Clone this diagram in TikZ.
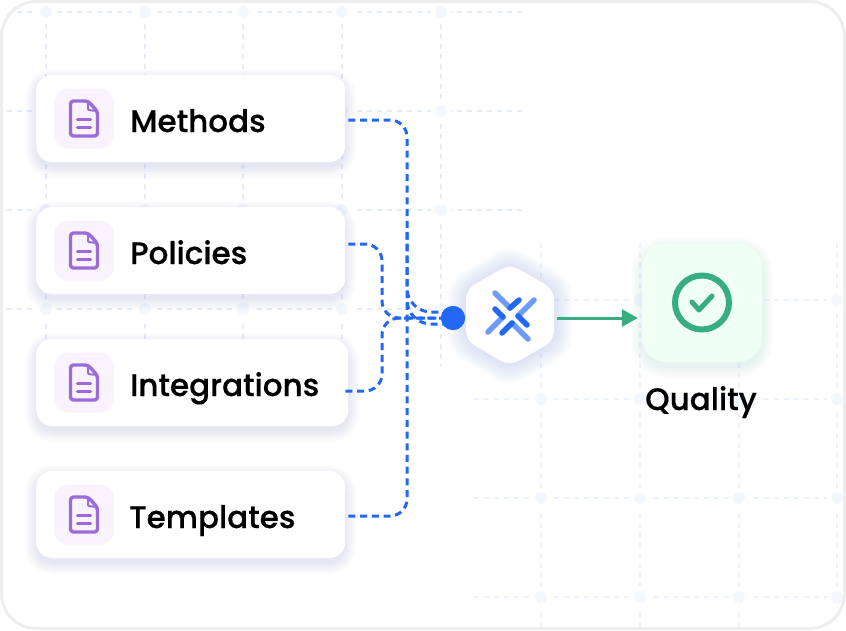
\documentclass[tikz,border=0pt]{standalone}
\usepackage{fontspec}
\setmainfont{Poppins Medium}[FakeBold=0.5]
\usetikzlibrary{arrows.meta,shapes.geometric}
\definecolor{gridblue}{HTML}{E3ECFD}
\definecolor{gridpale}{HTML}{EBF1FE}
\definecolor{griddot}{HTML}{F3F7FE}
\definecolor{wireblue}{HTML}{2268F5}
\definecolor{lightblue}{HTML}{6C9BF8}
\definecolor{docpurple}{HTML}{9B6BD8}
\definecolor{tilepurple}{HTML}{F8F3FE}
\definecolor{checkgreen}{HTML}{36AE82}
\definecolor{tilegreen}{HTML}{EFFFF5}
\definecolor{frameline}{HTML}{EEEEEE}
\definecolor{cardglow}{HTML}{9DAEEF}
\definecolor{hubglow}{HTML}{6F8CF5}
\definecolor{tileglow}{HTML}{B5DCC9}
\tikzset{
	gridline/.style={gridblue, line width=1.2pt, dash pattern=on 4.5pt off 5.5pt},
	gridlinepale/.style={gridpale, line width=1.2pt, dash pattern=on 4.5pt off 5.5pt},
	wire/.style={wireblue, line width=3pt, dash pattern=on 7pt off 4.7pt, rounded corners=17pt},
	card/.style={draw=none, fill=white, rounded corners=16pt, inner sep=0pt, minimum height=87pt, anchor=west},
	doctile/.style={draw=none, fill=tilepurple, rounded corners=14pt, inner sep=0pt, minimum size=60pt},
	label/.style={inner sep=0pt, anchor=base west, font=\fontsize{31}{31}\selectfont},
	docline/.style={docpurple, line width=3.4pt, line cap=round, line join=round},
	xlight/.style={lightblue, line width=5.5pt, line cap=round},
	xdark/.style={wireblue, line width=5.5pt, line cap=round},
	docfile/.pic={
		\draw[docline, rounded corners=3pt] (-13.5,-17.5) -- (4,-17.5) -- (13.5,-7) -- (13.5,17.5) -- (-13.5,17.5) -- cycle;
		\draw[docline, line width=2pt, rounded corners=1pt] (4,-17) -- (4,-8.5) -- (13,-7.5);
		\draw[docline] (-6.5,1) -- (6.5,1);
		\draw[docline] (-6.5,9) -- (6.5,9);
	}
}
% soft shadow made of stacked translucent boxes: x0,y0,x1,y1,radius,colour
\newcommand{\softshadow}[6]{%
	\foreach \s in {1,...,12}
		\fill[#6, opacity=0.018, rounded corners=#5pt+12pt-\s*1pt]
			(#1-12+\s,#2-7+\s) rectangle (#3+12-\s,#4+17-\s);
}
\begin{document}
\begin{tikzpicture}[x=1pt, y=-1pt]
	\useasboundingbox (0,0) rectangle (846,630);
	\fill[white] (0,0) rectangle (846,630);

	\begin{scope}
	\clip[rounded corners=35pt] (1.5,1.5) rectangle (844.5,628.5);
	% grid behind the cards
	\foreach \y in {12,111,210,309}
		\draw[gridline] (7,\y) -- (524,\y);
	\foreach \x in {46,145,243,342,441}
		\draw[gridline] (\x,4) -- (\x,366);
	\foreach \y in {300,399,498,597}
		\draw[gridlinepale] (474,\y) -- (846,\y);
	\foreach \x in {541,640,739,837}
		\draw[gridlinepale] (\x,243) -- (\x,630);
	\foreach \x in {46,145,243,342,441}
		\foreach \y in {12,111,210,309} {
			\fill[white] (\x,\y) circle (10pt);
			\fill[griddot] (\x,\y) circle (6pt);
		}
	\foreach \x in {541,640,739,837}
		\foreach \y in {300,399,498,597} {
			\fill[white] (\x,\y) circle (10pt);
			\fill[griddot] (\x,\y) circle (6pt);
		}
	\end{scope}
	\draw[frameline, line width=3pt, rounded corners=35pt] (1.5,1.5) rectangle (844.5,628.5);

	% cards
	\softshadow{36}{75}{345}{162}{16}{cardglow}
	\softshadow{36}{207}{345}{294}{16}{cardglow}
	\softshadow{36}{339}{348}{426}{16}{cardglow}
	\softshadow{36}{471}{345}{558}{16}{cardglow}
	\node[card, minimum width=309pt] (methods) at (36,118.5) {};
	\node[card, minimum width=309pt] (policies) at (36,250.5) {};
	\node[card, minimum width=312pt] (integrations) at (36,382.5) {};
	\node[card, minimum width=309pt] (templates) at (36,514.5) {};
	\node[doctile] (methodstile) at (84,118.5) {};
	\node[doctile] (policiestile) at (84,250.5) {};
	\node[doctile] (integrationstile) at (84,382.5) {};
	\node[doctile] (templatestile) at (84,514.5) {};
	\pic at (methodstile) {docfile};
	\pic at (policiestile) {docfile};
	\pic at (integrationstile) {docfile};
	\pic at (templatestile) {docfile};
	\node[label] (methodstext) at (130,132) {Methods};
	\node[label] (policiestext) at (130,264) {Policies};
	\node[label] (integrationstext) at (130,396) {Integrations};
	\node[label] (templatestext) at (129,528) {Templates};

	% hub
	\foreach \s in {1,...,14}
		\node[regular polygon, regular polygon sides=6, shape border rotate=30, fill=hubglow, opacity=0.016, inner sep=0pt,
			minimum size=102pt+\s*3pt, rounded corners=14pt] (hubglow\s) at (510,316) {};
	\node[regular polygon, regular polygon sides=6, shape border rotate=30, fill=white, inner sep=0pt, minimum size=102pt, rounded corners=10pt] (hub) at (510,315) {};
	\draw[xlight] (495,293) -- (510,308);
	\draw[xdark] (519,300) -- (510,308);
	\draw[xlight] (488,332) -- (503,317);
	\draw[xdark] (495,309) -- (503,317);
	\draw[xlight] (534,300) -- (518,316);
	\draw[xdark] (527,325) -- (518,316);
	\draw[xlight] (528,339) -- (512,323);
	\draw[xdark] (502,333) -- (512,323);
	\node[circle, fill=wireblue, inner sep=0pt, minimum size=24pt] (dot) at (453,318) {};

	% wires
	\coordinate (trunk) at (407,220);
	\coordinate (branch) at (382,318);
	\draw[wire] ([shift={(3pt,-1.5pt)}]methods.east) -| (trunk) [rounded corners=24pt] |- ([yshift=6pt]dot.center);
	\draw[wire] ([shift={(3pt,-1.5pt)}]templates.east) -| (trunk) [rounded corners=24pt] |- ([yshift=-6pt]dot.center);
	\draw[wire] ([shift={(3pt,6.5pt)}]policies.east) -| (branch) -- (dot.center);
	\draw[wire] ([shift={(-3pt,-8.5pt)}]integrations.east) -| (branch) -- (dot.center);
	\node[circle, fill=wireblue, inner sep=0pt, minimum size=24pt] (dottop) at (dot) {};

	% result
	\softshadow{642}{243}{762}{362}{24}{tileglow}
	\node[fill=tilegreen, rounded corners=24pt, inner sep=0pt, minimum width=120pt, minimum height=119pt] (quality) at (702,302.5) {};
	\draw[checkgreen, line width=6pt] (quality.center) circle (27pt);
	\draw[checkgreen, line width=5pt, line cap=round, line join=round] (692,302) -- (699,310) -- (712,296);
	\node[label, anchor=base] (qualitytext) at (701,410) {Quality};
	\draw[checkgreen, line width=3pt, -{Triangle[length=16pt, width=17pt]}] ([xshift=3pt]hub.east |- dot) -- ([xshift=-4pt]quality.west |- dot);
\end{tikzpicture}
\end{document}
